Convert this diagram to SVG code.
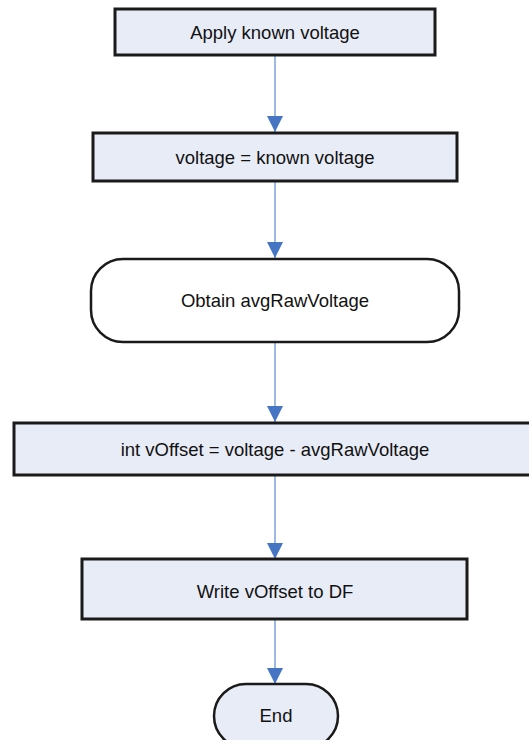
<svg xmlns="http://www.w3.org/2000/svg" width="529" height="740" viewBox="0 0 529 740">
<style>
.box{fill:#E8ECF7;stroke:#1a1a1a;stroke-width:3}
.term{fill:#FFFFFF;stroke:#1a1a1a;stroke-width:2.5}
.lbl{font-family:"Liberation Sans",Arial,sans-serif;font-size:18.5px;fill:#111;text-anchor:middle}
.conn{stroke:#7FA2D6;stroke-width:1.5;fill:none}
</style>
<defs>
<marker id="arr" markerWidth="16" markerHeight="16" refX="16" refY="8" orient="auto" markerUnits="userSpaceOnUse" viewBox="0 0 16 16">
<path d="M0,0 L16,8 L0,16 Z" fill="#4675C4"/>
</marker>
</defs>
<g id="connectors">
<line class="conn" x1="275" y1="55" x2="275" y2="132" marker-end="url(#arr)"/>
<line class="conn" x1="275" y1="181" x2="275" y2="258" marker-end="url(#arr)"/>
<line class="conn" x1="275" y1="342" x2="275" y2="422" marker-end="url(#arr)"/>
<line class="conn" x1="275" y1="475" x2="275" y2="559" marker-end="url(#arr)"/>
<line class="conn" x1="275" y1="619" x2="275" y2="684" marker-end="url(#arr)"/>
</g>
<g id="n1">
<rect class="box" x="115" y="9" width="320" height="46"/>
<text class="lbl" x="275" y="39">Apply known voltage</text>
</g>
<g id="n2">
<rect class="box" x="93" y="133" width="364" height="48"/>
<text class="lbl" x="275" y="163.5">voltage = known voltage</text>
</g>
<g id="n3">
<rect class="term" x="91" y="259" width="368" height="83" rx="32" ry="32"/>
<text class="lbl" x="275" y="307">Obtain avgRawVoltage</text>
</g>
<g id="n4">
<rect class="box" x="14" y="423" width="522" height="52"/>
<text class="lbl" x="275" y="456">int vOffset = voltage - avgRawVoltage</text>
</g>
<g id="n5">
<rect class="box" x="82" y="559" width="385" height="60"/>
<text class="lbl" x="275" y="598">Write vOffset to DF</text>
</g>
<g id="n6">
<rect class="box" x="214" y="684" width="124" height="64" rx="32" ry="32" style="stroke-width:2.5"/>
<text class="lbl" x="276" y="722">End</text>
</g>
</svg>
